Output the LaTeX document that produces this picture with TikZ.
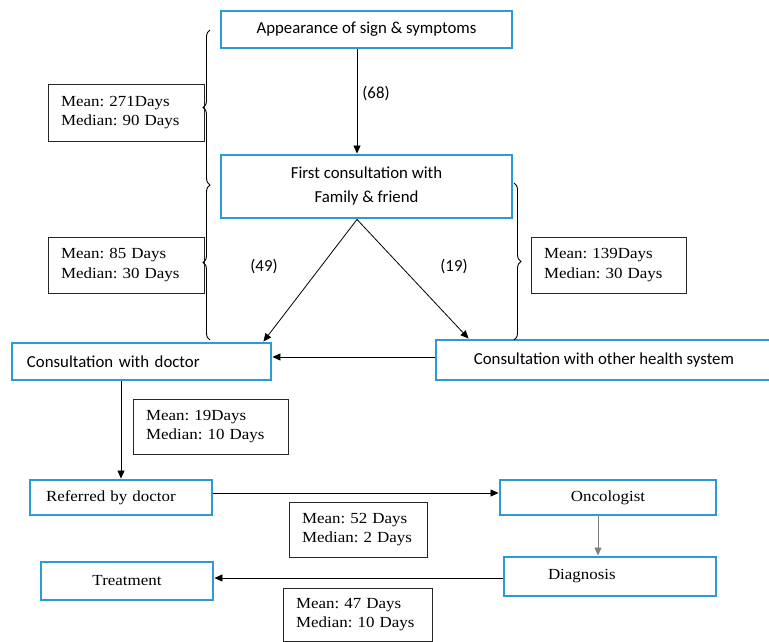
\documentclass[tikz,border=0pt]{standalone}
\usepackage{fontspec}
\usepackage{xcolor}
\usetikzlibrary{arrows.meta,decorations.pathreplacing}
\newfontfamily\calfont{Carlito}
\newfontfamily\cambfont[FakeStretch=1.1]{Liberation Serif}
\definecolor{StepBlue}{HTML}{2A9BD7}
\frenchspacing

\begin{document}
\begin{tikzpicture}[x=1pt,y=-1pt,
    bluebox/.style={draw=StepBlue,line width=2.9pt,inner sep=0pt,align=center},
    sanstext/.style={font=\calfont\fontsize{16.8}{24}\selectfont},
    seriftext/.style={font=\cambfont\fontsize{15.4}{19.5}\selectfont},
    daysbox/.style={draw=black!85,line width=0.9pt,inner xsep=13pt,inner ysep=0pt,align=left,seriftext},
    flow/.style={-{Triangle[length=8pt,width=7pt]},line width=0.8pt},
    curly/.style={decorate,decoration={brace,amplitude=7pt},line width=0.9pt}]
  \useasboundingbox (0,0) rectangle (769,642);
  % main steps
  \node[bluebox,sanstext,minimum width=291pt,minimum height=37pt] (sign) at (366.5,29.5) {Appearance of sign \& symptoms};
  \node[bluebox,sanstext,minimum width=291pt,minimum height=63pt] (family) at (366.5,186.5) {First consultation with\\Family \& friend};
  \node[bluebox,sanstext,inner xsep=15pt,text width=229pt,align=left,minimum height=37pt] (doctor) at (141.5,361.5) {Consultation with doctor};
  \node[bluebox,sanstext,minimum width=336pt,minimum height=40pt] (other) at (604,360) {Consultation with other health system};
  \node[bluebox,seriftext,inner xsep=16pt,text width=150pt,align=left,minimum height=35pt] (referred) at (121,497.5) {Referred by doctor};
  \node[bluebox,seriftext,minimum width=216pt,minimum height=35pt] (onco) at (608,497.5) {Oncologist};
  \node[bluebox,seriftext,inner xsep=44pt,text width=124pt,align=left,minimum height=39pt] (diag) at (610,576.5) {Diagnosis};
  \node[bluebox,seriftext,minimum width=172pt,minimum height=38pt] (treat) at (127,581) {Treatment};
  % durations
  \node[daysbox,text width=130pt,minimum height=57pt] (d1) at (126,112.5) {Mean: 271Days\\Median: 90 Days};
  \node[daysbox,text width=130pt,minimum height=56pt] (d2) at (126,265) {Mean: 85 Days\\Median: 30 Days};
  \node[daysbox,text width=129pt,minimum height=56pt] (d3) at (608.5,265) {Mean: 139Days\\Median: 30 Days};
  \node[daysbox,text width=129pt,minimum height=55pt] (d4) at (210.5,426.5) {Mean: 19Days\\Median: 10 Days};
  \node[daysbox,text width=112pt,minimum height=55pt] (d5) at (358,529.5) {Mean: 52 Days\\Median: 2 Days};
  \node[daysbox,text width=123pt,minimum height=53pt] (d6) at (357.5,614.5) {Mean: 47 Days\\Median: 10 Days};
  % counts
  \node[sanstext] (n68) at (376,94) {(68)};
  \node[sanstext] (n49) at (264,267) {(49)};
  \node[sanstext] (n19) at (454,267) {(19)};
  % connectors
  \coordinate (spine) at (357,0);
  \draw[flow] (sign.south -| spine) -- (family.north -| spine);
  \draw[flow] (family.south -| spine) -- ([xshift=-9pt]doctor.north east);
  \draw[flow] (family.south -| spine) -- ([xshift=34pt]other.north west);
  \draw[flow] ([yshift=3pt]other.west) -- ([yshift=3pt]other.west -| doctor.east);
  \draw[flow] (doctor.south -| referred.north) -- (referred.north);
  \draw[flow] ([yshift=4.5pt]referred.east) -- ([yshift=4.5pt]referred.east -| onco.west);
  \draw[flow,draw=gray,line width=0.6pt] ([xshift=-10pt]onco.south) -- ([xshift=-10pt]onco.south |- diag.north);
  \draw[flow] ([yshift=-1.5pt]diag.west) -- ([yshift=-1.5pt]diag.west -| treat.east);
  % braces
  \coordinate (b1) at (210,30);
  \coordinate (b2) at (210,185);
  \coordinate (b3) at (210,340);
  \coordinate (b4) at (514,183);
  \coordinate (b5) at (514,340);
  \draw[curly] (b2) -- (b1);
  \draw[curly] (b3) -- (b2);
  \draw[curly] (b4) -- (b5);
\end{tikzpicture}
\end{document}
